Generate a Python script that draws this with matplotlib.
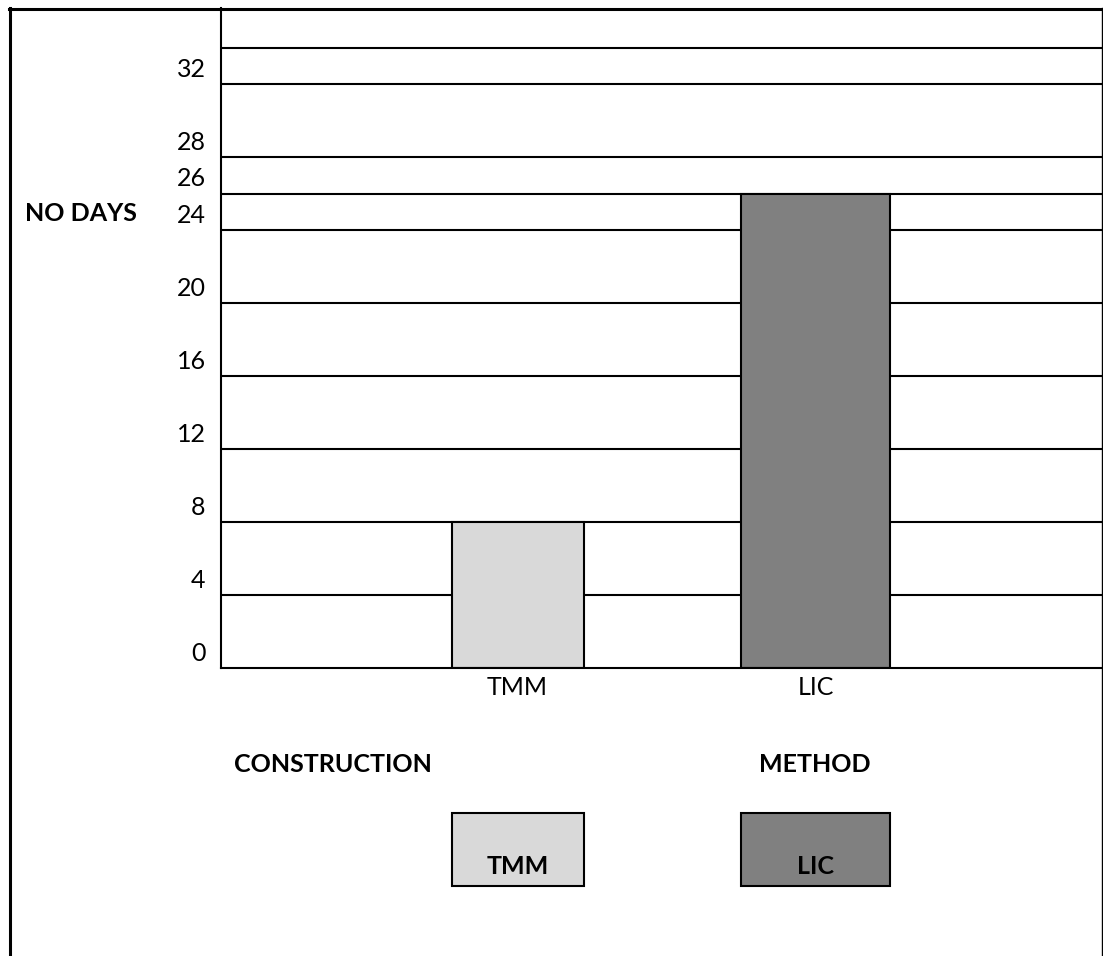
import matplotlib
matplotlib.use("Agg")
import matplotlib.pyplot as plt
from matplotlib.patches import Rectangle
from matplotlib.lines import Line2D
from matplotlib.transforms import ScaledTranslation

# --- data ---
methods = ["TMM", "LIC"]
days = [8, 26]
bar_colors = ["#d9d9d9", "#808080"]
ytick_values = [0, 4, 8, 12, 16, 20, 24, 26, 28, 32]
ytick_labels = ["0", "4", "8", "12", "16", "20", "24", "26", "28", "32"]
grid_values = [4, 8, 12, 16, 20, 24, 26, 28, 32, 34]
y_title = "NO DAYS"
x_title_left = "CONSTRUCTION"
x_title_right = "METHOD"

plt.rcParams["font.family"] = ["Lato", "DejaVu Sans"]

W, H = 1103, 956
fig = plt.figure(figsize=(W / 100, H / 100), dpi=100)


def fx(x):
    return x / W


def fy(y):
    return 1 - y / H


# plot area in pixel terms: x 221..1102, y 8..668
ax = fig.add_axes([fx(221), fy(668), fx(1102) - fx(221), fy(8) - fy(668)])
ax.set_ylim(0, 660 / 18.25)
ax.set_xlim(0.005, 2.961)

for g in grid_values:
    ax.axhline(g, color="black", lw=1.5, zorder=1)

positions = [1, 2]
widths = [0.443, 0.5]
ax.bar(positions, days, width=widths, color=bar_colors,
       edgecolor="black", linewidth=1.5, zorder=3)

ax.set_xticks(positions)
ax.set_xticklabels(methods, fontsize=18)
ax.set_yticks(ytick_values)
ax.set_yticklabels(ytick_labels, fontsize=18)
ax.tick_params(axis="both", length=0)
ax.tick_params(axis="y", pad=11)
ax.tick_params(axis="x", pad=6)

shift = ScaledTranslation(0, 0.165, fig.dpi_scale_trans)
for tick in ax.yaxis.get_major_ticks():
    tick.label1.set_transform(tick.label1.get_transform() + shift)

for side in ("top", "right"):
    ax.spines[side].set_visible(False)
for side in ("left", "bottom"):
    ax.spines[side].set_linewidth(1.5)
    ax.spines[side].set_zorder(4)

# axis titles
fig.text(fx(25), fy(213), y_title, fontsize=18, fontweight="bold",
         ha="left", va="center")
fig.text(fx(333), fy(765), x_title_left, fontsize=18, fontweight="bold",
         ha="center", va="center")
fig.text(fx(815), fy(765), x_title_right, fontsize=18, fontweight="bold",
         ha="center", va="center")

# legend boxes with labels inside
legend_boxes = [(452, 584), (741, 890)]
for (x0, x1), name, col in zip(legend_boxes, methods, bar_colors):
    fig.add_artist(Rectangle((fx(x0), fy(886)), fx(x1) - fx(x0), fy(813) - fy(886),
                             transform=fig.transFigure, facecolor=col,
                             edgecolor="black", linewidth=1.5))
    fig.text(fx((x0 + x1) / 2), fy(867), name, fontsize=18, fontweight="bold",
             ha="center", va="center")

# outer frame
fig.add_artist(Line2D([fx(8.5), fx(1102)], [fy(9), fy(9)], color="black",
                      lw=2.2, transform=fig.transFigure))
fig.add_artist(Line2D([fx(10), fx(10)], [fy(8), fy(956)], color="black",
                      lw=2.2, transform=fig.transFigure))
fig.add_artist(Line2D([fx(1101.5), fx(1101.5)], [fy(8), fy(956)], color="black",
                      lw=1.0, transform=fig.transFigure))

fig.savefig("out.png", dpi=100)
